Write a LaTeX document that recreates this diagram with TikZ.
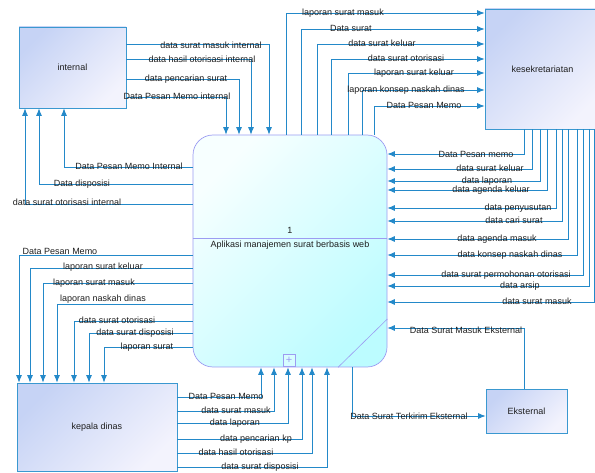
\documentclass[tikz,border=0pt]{standalone}
\usepackage{fontspec}
\setmainfont{Liberation Sans}
\usepackage{xcolor}
\usepackage{tikz}
\usetikzlibrary{
  arrows.meta,
  positioning
}
\definecolor{entStroke}{HTML}{3A98D0}
\definecolor{entTop}{HTML}{C6D3F5}
\definecolor{entBot}{HTML}{F3F3FD}
\definecolor{procStroke}{HTML}{9C9CF2}
\definecolor{procTop}{HTML}{F7FFFF}
\definecolor{procBot}{HTML}{BCFCFF}
\definecolor{flowBlue}{HTML}{2389C9}
\definecolor{lblTxt}{HTML}{1E1E1E}
\tikzset{
  ent nd/.style={
    rectangle, draw=entStroke, line width=0.8pt,
    top color=entTop, bottom color=entBot, shading angle=45,
    text=lblTxt, font=\fontsize{9}{10.8}\selectfont
  },
  proc nd/.style={
    rectangle, rounded corners=20pt, draw=procStroke, line width=0.7pt,
    top color=procTop, bottom color=procBot, shading angle=45,
    minimum width=194pt, minimum height=232pt
  },
  flow/.style={-{Latex[length=7.5pt,width=6pt]},
    line width=0.8pt, draw=flowBlue},
  lbl/.style={font=\fontsize{9}{10.8}\selectfont, text=lblTxt,
    inner sep=0pt, anchor=base}
}

\begin{document}
\begin{tikzpicture}[x=1pt, y=-1pt]
  \useasboundingbox (0,0) rectangle (595,473);

  % external entities and the process
  \node[ent nd, minimum width=107pt, minimum height=81pt] (internal)
    at (72.5,67.5) {internal};
  \node[ent nd, minimum width=115pt, minimum height=120pt] (kesek)
    at (542.5,69) {kesekretariatan};
  \node[ent nd, minimum width=160pt, minimum height=88pt] (kepala)
    at (97,427) {kepala dinas};
  \node[ent nd, minimum width=81pt, minimum height=44pt] (ext)
    at (526.5,411) {Eksternal};
  \node[proc nd] (app) at (290,251) {};

  \coordinate (divL) at (app.west |- 0,238);
  \coordinate (divR) at (app.east |- 0,238);
  \coordinate (divM) at (app.center |- 0,238);
  \draw[procStroke, line width=0.7pt] (divL) -- (divR);
  \node[lbl, anchor=south, inner sep=0pt, above=4pt of divM] (appnum) {1};
  \node[lbl, anchor=north, inner sep=0pt, below=3pt of divM] (apptxt)
    {Aplikasi manajemen surat berbasis web};
  \draw[procStroke, line width=0.6pt] (app.south -| 338,0) -- (app.east |- 0,319);
  \node[draw=procStroke, line width=0.6pt, fill=procBot!60!white,
        minimum size=12pt, inner sep=0pt, text=procStroke,
        font=\fontsize{11}{11}\selectfont] (expand) at (289,360) {+};

  % internal -> aplikasi
  \draw[flow] (internal.east |- 0,44) -| (app.north -| 269,0)
    node[lbl] (f01) at (211,48.5) {data surat masuk internal};
  \draw[flow] (internal.east |- 0,59) -| (app.north -| 251,0)
    node[lbl] (f02) at (202,62.5) {data hasil otorisasi internal};
  \draw[flow] (internal.east |- 0,79) -| (app.north -| 239,0)
    node[lbl] (f03) at (186,82) {data pencarian surat};
  \draw[flow] (internal.east |- 0,97) -| (app.north -| 226,0)
    node[lbl] (f04) at (177,100) {Data Pesan Memo internal};

  % aplikasi -> internal
  \draw[flow] (app.west |- 0,167) -| (internal.south -| 64,0)
    node[lbl] (f05) at (129,170) {Data Pesan Memo Internal};
  \draw[flow] (app.west |- 0,184) -| (internal.south -| 39,0)
    node[lbl] (f06) at (82,186.5) {Data disposisi};
  \draw[flow] (app.west |- 0,204) -| (internal.south -| 25,0)
    node[lbl] (f07) at (67,205.5) {data surat otorisasi internal};

  % aplikasi -> kesekretariatan
  \draw[flow] (app.north -| 286,0) |- (kesek.west |- 0,13)
    node[lbl] (f08) at (343,15.5) {laporan surat masuk};
  \draw[flow] (app.north -| 301,0) |- (kesek.west |- 0,29)
    node[lbl] (f09) at (351,32) {Data surat};
  \draw[flow] (app.north -| 317,0) |- (kesek.west |- 0,44)
    node[lbl] (f10) at (382,47) {data surat keluar};
  \draw[flow] (app.north -| 331,0) |- (kesek.west |- 0,59)
    node[lbl] (f11) at (406,62) {data surat otorisasi};
  \draw[flow] (app.north -| 348,0) |- (kesek.west |- 0,73)
    node[lbl] (f12) at (414,76) {laporan surat keluar};
  \draw[flow] (app.north -| 362,0) |- (kesek.west |- 0,90)
    node[lbl] (f13) at (406,92.5) {laporan konsep naskah dinas};
  \draw[flow] (app.north -| 374,0) |- (kesek.west |- 0,106)
    node[lbl] (f14) at (424,109) {Data Pesan Memo};

  % kesekretariatan -> aplikasi
  \draw[flow] (kesek.south -| 524,0) |- (app.east |- 0,154)
    node[lbl] (f15) at (476,157.5) {Data Pesan memo};
  \draw[flow] (kesek.south -| 532,0) |- (app.east |- 0,169)
    node[lbl] (f16) at (490,172) {data surat keluar};
  \draw[flow] (kesek.south -| 540,0) |- (app.east |- 0,181)
    node[lbl] (f17) at (487,183.5) {data laporan};
  \draw[flow] (kesek.south -| 547,0) |- (app.east |- 0,190)
    node[lbl] (f18) at (491,193) {data agenda keluar};
  \draw[flow] (kesek.south -| 556,0) |- (app.east |- 0,208)
    node[lbl] (f19) at (518,211) {data penyusutan};
  \draw[flow] (kesek.south -| 562,0) |- (app.east |- 0,221)
    node[lbl] (f20) at (514,224) {data cari surat};
  \draw[flow] (kesek.south -| 568,0) |- (app.east |- 0,239)
    node[lbl] (f21) at (497,242) {data agenda masuk};
  \draw[flow] (kesek.south -| 577,0) |- (app.east |- 0,255)
    node[lbl] (f22) at (510,258) {data konsep naskah dinas};
  \draw[flow] (kesek.south -| 583,0) |- (app.east |- 0,275)
    node[lbl] (f23) at (506,278) {data surat permohonan otorisasi};
  \draw[flow] (kesek.south -| 589,0) |- (app.east |- 0,286)
    node[lbl] (f24) at (520,289) {data arsip};
  \draw[flow] (kesek.south -| 594,0) |- (app.east |- 0,302)
    node[lbl] (f25) at (537,305) {data surat masuk};

  % aplikasi -> kepala dinas
  \draw[flow] (app.west |- 0,255) -| (kepala.north -| 19,0)
    node[lbl] (f26) at (60,255) {Data Pesan Memo};
  \draw[flow] (app.west |- 0,268) -| (kepala.north -| 30,0)
    node[lbl] (f27) at (103,269.5) {laporan surat keluar};
  \draw[flow] (app.west |- 0,283) -| (kepala.north -| 43,0)
    node[lbl] (f28) at (94,286) {laporan surat masuk};
  \draw[flow] (app.west |- 0,304) -| (kepala.north -| 57,0)
    node[lbl] (f29) at (103,302) {laporan naskah dinas};
  \draw[flow] (app.west |- 0,321) -| (kepala.north -| 74,0)
    node[lbl] (f30) at (117,324) {data surat otorisasi};
  \draw[flow] (app.west |- 0,333) -| (kepala.north -| 89,0)
    node[lbl] (f31) at (135,335.5) {data surat disposisi};
  \draw[flow] (app.west |- 0,347) -| (kepala.north -| 104,0)
    node[lbl] (f32) at (147,349.5) {laporan surat};

  % kepala dinas -> aplikasi
  \draw[flow] (kepala.east |- 0,397) -| (app.south -| 261,0)
    node[lbl] (f33) at (226,399.5) {Data Pesan Memo};
  \draw[flow] (kepala.east |- 0,411) -| (app.south -| 274,0)
    node[lbl] (f34) at (236,413.5) {data surat masuk};
  \draw[flow] (kepala.east |- 0,423) -| (app.south -| 288,0)
    node[lbl] (f35) at (235,425.5) {data laporan};
  \draw[flow] (kepala.east |- 0,439) -| (app.south -| 302,0)
    node[lbl] (f36) at (256,441.5) {data pencarian kp};
  \draw[flow] (kepala.east |- 0,453) -| (app.south -| 312,0)
    node[lbl] (f37) at (236,455.5) {data hasil otorisasi};
  \draw[flow] (kepala.east |- 0,467) -| (app.south -| 327,0)
    node[lbl] (f38) at (260,469.5) {data surat disposisi};

  % eksternal
  \draw[flow] (ext.north -| 524,0) |- (app.east |- 0,328)
    node[lbl] (f39) at (466,333.5) {Data Surat Masuk Eksternal};
  \draw[flow] (app.south -| 352,0) |- (ext.west |- 0,416)
    node[lbl] (f40) at (409,419) {Data Surat Terkirim Eksternal};

\end{tikzpicture}
\end{document}
